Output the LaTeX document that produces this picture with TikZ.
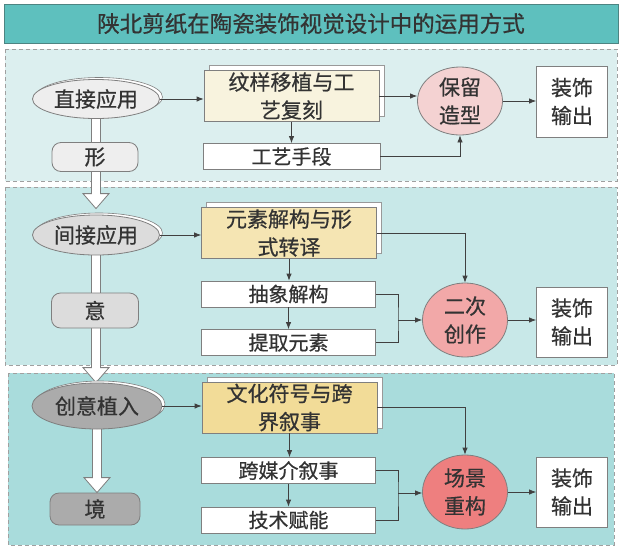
\documentclass[tikz,border=0pt]{standalone}
\usepackage{fontspec}
\newfontfamily\cjk[FakeBold=0.6]{Noto Sans CJK SC}
\usetikzlibrary{shapes.geometric,shadows,calc,arrows.meta}
\pgfdeclarelayer{back}
\pgfdeclarelayer{mid}
\pgfsetlayers{back,mid,main}
\definecolor{txtc}{HTML}{333333}
\definecolor{lineg}{HTML}{7F7F7F}
\definecolor{dashg}{HTML}{A0A0A0}
\definecolor{arrc}{HTML}{404040}
\definecolor{titlef}{HTML}{5EC0BE}
\definecolor{titled}{HTML}{4D8482}
\definecolor{pa}{HTML}{DCEFEF}
\definecolor{pb}{HTML}{C8E8E8}
\definecolor{pc}{HTML}{A9DCDC}
\definecolor{ga}{HTML}{EEEEEE}
\definecolor{gb}{HTML}{DCDCDC}
\definecolor{gc}{HTML}{ABABAB}
\definecolor{ya}{HTML}{F8F3DE}
\definecolor{yb}{HTML}{F5E5B3}
\definecolor{yc}{HTML}{F2DC98}
\definecolor{ra}{HTML}{F4D2D2}
\definecolor{rb}{HTML}{F2A8A8}
\definecolor{rc}{HTML}{EE7F7F}
\tikzset{
 txt/.style={font=\cjk\fontsize{21}{28}\selectfont, text=txtc, align=center, inner sep=0pt},
 ell/.style={ellipse, draw=lineg, line width=0.8pt, minimum width=127pt, minimum height=39pt, txt,
   copy shadow={shadow xshift=3pt, shadow yshift=2pt, fill=white, draw=lineg, line width=0.6pt}},
 pill/.style={rectangle, rounded corners=9pt, draw=lineg, line width=0.8pt, txt},
 doc/.style={rectangle, draw=lineg, line width=0.8pt, minimum width=175pt, minimum height=51pt, txt,
   copy shadow={shadow xshift=5pt, shadow yshift=5pt, fill=white, draw=lineg!80, line width=0.6pt}},
 wbox/.style={rectangle, draw=lineg, line width=0.8pt, fill=white, minimum width=174pt, minimum height=26pt, txt,
   font=\cjk\fontsize{20}{24}\selectfont},
 circ/.style={ellipse, draw=lineg, line width=0.8pt, minimum width=85pt, minimum height=72pt, txt},
 obox/.style={rectangle, draw=lineg, line width=0.8pt, fill=white, minimum width=71pt, minimum height=70pt, txt},
 panel/.style={draw=dashg, dash pattern=on 4pt off 3pt, line width=0.9pt},
 arr/.style={draw=arrc, line width=0.8pt, -{Latex[length=7pt,width=5.5pt]}},
 link/.style={draw=arrc, line width=0.8pt},
 hollow/.style={fill=white, draw=lineg, line width=0.8pt},
}
\newcommand\hollowarrow[3]{%
 \begin{pgfonlayer}{mid}
 \path[hollow] let \p1=(#1.south), \p2=(#2.north) in
  (\x1-4.5pt,\y1+3pt) -- (\x1-4.5pt,\y2+#3+15pt) -- (\x1-13pt,\y2+#3+15pt) -- (\x1,\y2+#3)
  -- (\x1+13pt,\y2+#3+15pt) -- (\x1+4.5pt,\y2+#3+15pt) -- (\x1+4.5pt,\y1+3pt) -- cycle;
 \end{pgfonlayer}}
\begin{document}
\begin{tikzpicture}[x=1pt,y=-1pt]
\useasboundingbox (0,0) rectangle (621,549);
\begin{pgfonlayer}{back}
 \fill[white] (0,0) rectangle (621,549);
 \path[panel, fill=pa] (5,49) rectangle (617,181);
 \path[panel, fill=pb] (5,187) rectangle (617,365);
 \path[panel, fill=pc] (8,373) rectangle (614,545);
\end{pgfonlayer}
% title
\node[rectangle, draw=titled, line width=0.9pt, fill=titlef, minimum width=614pt, minimum height=39pt, txt,
  font=\cjk\fontsize{22.5}{26}\selectfont] (title) at (311,23.5) {陕北剪纸在陶瓷装饰视觉设计中的运用方式};
% panel 1
\node[ell, fill=ga] (e1) at (96,99) {直接应用};
\node[pill, fill=ga, minimum width=86pt, minimum height=29pt] (f1) at (95,157) {形};
\node[doc, fill=ya] (d1) at (291.5,96) {纹样移植与工\\艺复刻};
\node[wbox, minimum width=177pt] (t1) at (291.5,156.5) {工艺手段};
\node[circ, fill=ra, minimum height=68pt] (c1) at (460,101) {保留\\造型};
\node[obox, minimum height=71pt] (o1) at (572,101.5) {装饰\\输出};
% panel 2
\node[ell, fill=gb, minimum height=40pt] (e2) at (96,235) {间接应用};
\node[pill, fill=gb, minimum width=87pt, minimum height=35pt] (f2) at (95,310.5) {意};
\node[doc, fill=yb] (d2) at (289,233) {元素解构与形\\式转译};
\node[wbox] (a2) at (288.5,294) {抽象解构};
\node[wbox] (b2) at (288.5,342.5) {提取元素};
\node[circ, fill=rb, minimum height=74pt] (c2) at (465,320) {二次\\创作};
\node[obox] (o2) at (572,322) {装饰\\输出};
% panel 3
\node[ell, fill=gc, minimum width=130pt, minimum height=46pt] (e3) at (97,406) {创意植入};
\node[pill, fill=gc, minimum width=90pt, minimum height=32pt] (f3) at (95,509) {境};
\node[doc, fill=yc] (d3) at (289.5,407.5) {文化符号与跨\\界叙事};
\node[wbox] (a3) at (288.5,470.5) {跨媒介叙事};
\node[wbox] (b3) at (288.5,520) {技术赋能};
\node[circ, fill=rc, minimum height=74pt] (c3) at (465,492) {场景\\重构};
\node[obox] (o3) at (572,492) {装饰\\输出};
% hollow arrows
\hollowarrow{e1}{e2}{6pt}
\hollowarrow{e2}{e3}{0pt}
\hollowarrow{e3}{f3}{0pt}
% panel 1 connectors
\draw[arr] (e1.east) -- (e1.east -| d1.west);
\draw[arr] (d1.east) -- (d1.east -| c1.west);
\draw[arr] (d1.south) -- (d1.south |- t1.north);
\draw[arr] (t1.east) -| (c1.south);
\draw[arr] (c1.east) -- (c1.east -| o1.west);
% panel 2 connectors
\draw[arr] (e2.east) -- (e2.east -| d2.west);
\draw[arr] (d2.east) -| (c2.north);
\draw[arr] (d2.south) -- (d2.south |- a2.north);
\draw[arr] (a2.south) -- (b2.north);
\coordinate (j2) at (398,320);
\draw[link] (a2.east) -| (j2) |- (b2.east);
\draw[arr] (j2) -- (j2 -| c2.west);
\draw[arr] (c2.east) -- (c2.east -| o2.west);
% panel 3 connectors
\draw[arr] (e3.east) -- (e3.east -| d3.west);
\draw[arr] (d3.east) -| (c3.north);
\draw[arr] (d3.south) -- (d3.south |- a3.north);
\draw[arr] (a3.south) -- (b3.north);
\coordinate (j3) at (398,493);
\draw[link] (a3.east) -| (j3) |- (b3.east);
\draw[arr] (j3) -- (j3 -| c3.west);
\draw[arr] (c3.east) -- (c3.east -| o3.west);
\end{tikzpicture}
\end{document}
